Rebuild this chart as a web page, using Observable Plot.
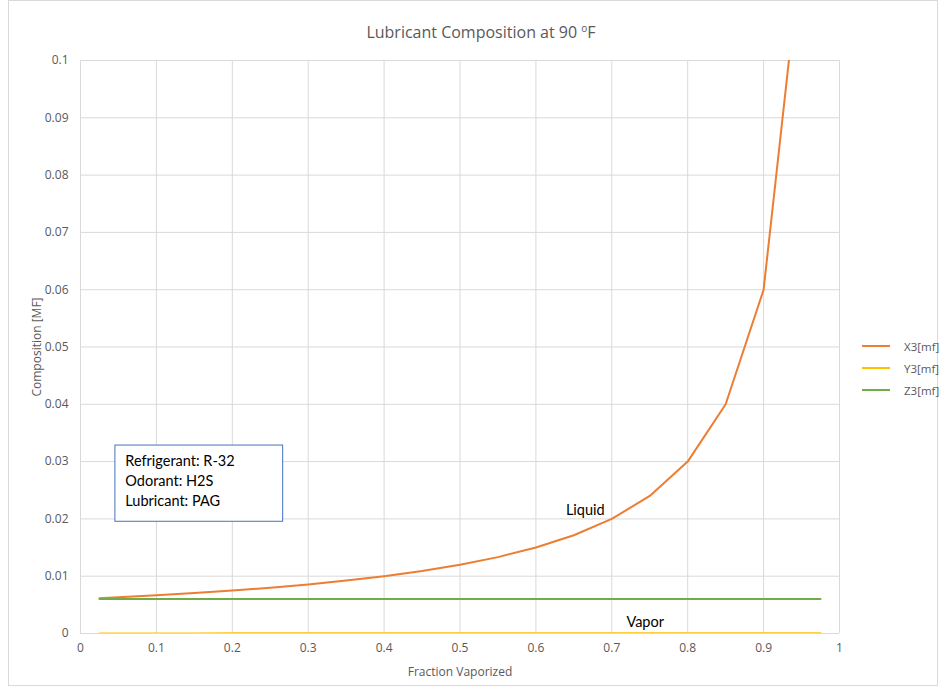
<!DOCTYPE html>
<html><head><meta charset="utf-8">
<script src="https://cdn.jsdelivr.net/npm/d3@7"></script>
<script src="https://cdn.jsdelivr.net/npm/@observablehq/plot@0.6"></script>
<style>
body{margin:0;background:#fff;}
#wrap{position:relative;width:940px;height:689px;font-family:"Open Sans",sans-serif;}
#frame{position:absolute;left:8px;top:0px;width:930px;height:686px;border:1px solid #d9d9d9;box-sizing:border-box;}
#title{position:absolute;top:21px;left:0;width:962px;text-align:center;font-size:16px;color:#595959;}
#title sup{font-size:10px;}
#legend{position:absolute;left:862px;top:335px;font-size:11.5px;color:#595959;}
#legend div{height:22px;display:flex;align-items:center;}
#legend span.sw{display:inline-block;width:28px;height:2px;margin-right:14px;}
svg{position:absolute;left:0;top:0;}
</style></head>
<body><div id="wrap"><div id="frame"></div><div id="title">Lubricant Composition at 90 <sup>o</sup>F</div><div id="legend"></div></div>
<script>
const frac = [0.025,0.05,0.1,0.15,0.2,0.25,0.3,0.35,0.4,0.45,0.5,0.55,0.6,0.65,0.7,0.75,0.8,0.85,0.9,0.95,0.975];
const X3 = [0.00615,0.00632,0.00667,0.00706,0.0075,0.008,0.00857,0.00923,0.01,0.0109,0.012,0.01333,0.015,0.01714,0.02,0.024,0.03,0.04,0.06,0.12,0.24];
const Y3 = [0.00001,0.00001,0.00002,0.00002,0.00003,0.00003,0.00003,0.00003,0.00004,0.00004,0.00004,0.00004,0.00005,0.00005,0.00005,0.00005,0.00005,0.00005,0.00005,0.00005,0.00005];
const Z3 = [0.006,0.006,0.006,0.006,0.006,0.006,0.006,0.006,0.006,0.006,0.006,0.006,0.006,0.006,0.006,0.006,0.006,0.006,0.006,0.006,0.006];
const seriesNames = ["X3[mf]","Y3[mf]","Z3[mf]"];
const seriesColors = ["#ED7D31","#FFC000","#70AD47"];
const xTicks = [0,0.1,0.2,0.3,0.4,0.5,0.6,0.7,0.8,0.9,1];
const yTicks = [0,0.01,0.02,0.03,0.04,0.05,0.06,0.07,0.08,0.09,0.1];
const notes = [{x:0.665,y:0.0215,text:"Liquid"},{x:0.744,y:0.0019,text:"Vapor"}];
const infoBox = {x1:0.046,x2:0.267,y1:0.0195,y2:0.0328};
const infoLines = [{x:0.059,y:0.0300,text:"Refrigerant: R-32"},{x:0.059,y:0.0265,text:"Odorant: H2S"},{x:0.059,y:0.0230,text:"Lubricant: PAG"}];

const data = [];
[X3,Y3,Z3].forEach((arr,i)=>arr.forEach((v,j)=>data.push({series:seriesNames[i],x:frac[j],y:v})));

const chart = Plot.plot({
  width:940,height:689,
  marginLeft:80,marginRight:101,marginTop:60,marginBottom:56,
  style:{fontFamily:"Open Sans, sans-serif",fontSize:"12px",color:"#595959",background:"transparent"},
  x:{domain:[0,1],ticks:xTicks,tickSize:0,tickPadding:10,label:"Fraction Vaporized",labelArrow:"none",labelAnchor:"center",labelOffset:42,tickFormat:d=>String(d)},
  y:{domain:[0,0.1],ticks:yTicks,tickSize:0,tickPadding:12,label:"Composition [MF]",labelArrow:"none",labelAnchor:"center",labelOffset:48,tickFormat:d=>String(+d.toFixed(2))},
  color:{domain:seriesNames,range:seriesColors},
  marks:[
    Plot.gridX(xTicks,{stroke:"#d9d9d9",strokeOpacity:1,strokeWidth:1}),
    Plot.gridY(yTicks,{stroke:"#d9d9d9",strokeOpacity:1,strokeWidth:1}),
    Plot.line(data,{x:"x",y:"y",z:"series",stroke:"series",strokeWidth:2,clip:true}),
    Plot.rect([infoBox],{x1:"x1",x2:"x2",y1:"y1",y2:"y2",fill:"white",stroke:"#4472C4",strokeWidth:1}),
    Plot.text(infoLines,{x:"x",y:"y",text:"text",textAnchor:"start",fontFamily:"Lato, sans-serif",fontSize:14.5,fill:"#000"}),
    Plot.text(notes,{x:"x",y:"y",text:"text",fontFamily:"Lato, sans-serif",fontSize:14.5,fill:"#000"})
  ]
});
document.getElementById("wrap").appendChild(chart);

const leg = document.getElementById("legend");
seriesNames.forEach((n,i)=>{const d=document.createElement("div");d.innerHTML=`<span class="sw" style="background:${seriesColors[i]}"></span>${n}`;leg.appendChild(d);});
</script></body></html>
